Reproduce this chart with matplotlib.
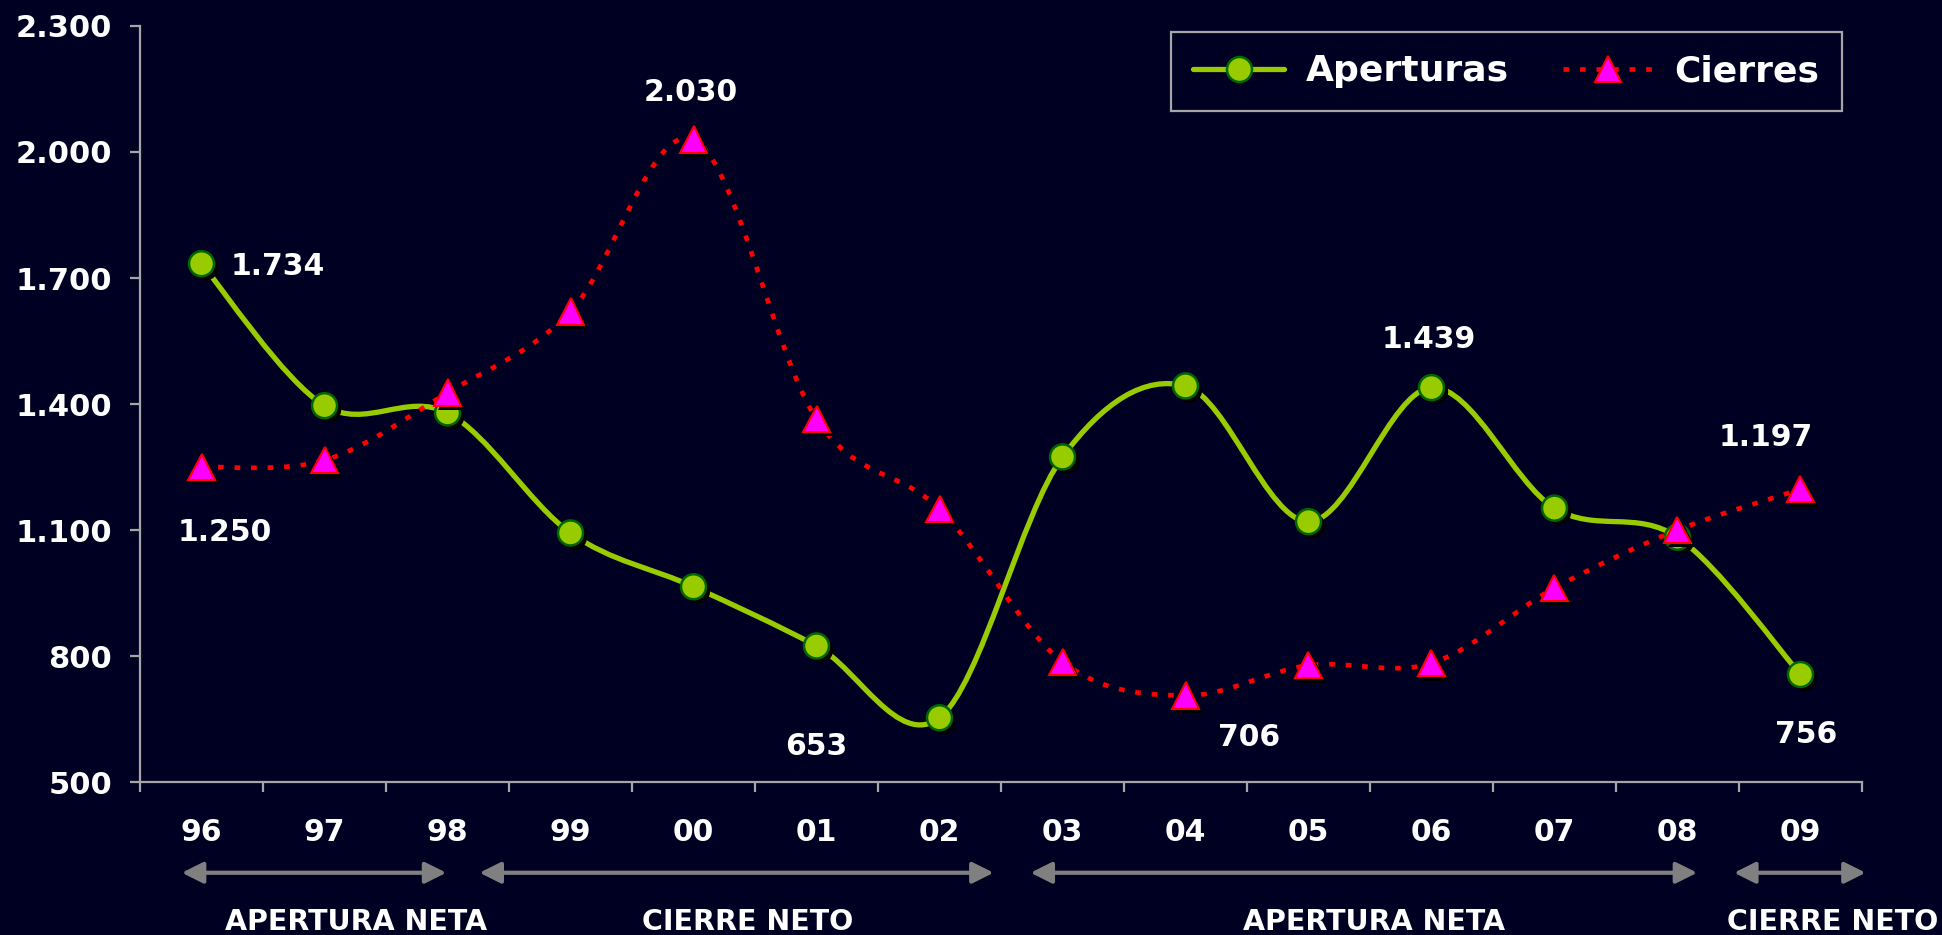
import numpy as np
import matplotlib.pyplot as plt
import matplotlib.patheffects as pe
from matplotlib.path import Path
from matplotlib.patches import PathPatch
from matplotlib.lines import Line2D
from matplotlib.ticker import FuncFormatter, FixedLocator
import matplotlib.transforms as mtransforms

plt.rcParams['font.family'] = ['DejaVu Sans']
plt.rcParams['font.weight'] = 'bold'

years = ['96', '97', '98', '99', '00', '01', '02', '03', '04', '05', '06', '07', '08', '09']
aperturas = [1734, 1396, 1379, 1093, 965, 824, 653, 1274, 1443, 1120, 1439, 1152, 1083, 756]
cierres = [1250, 1266, 1427, 1620, 2030, 1364, 1150, 786, 706, 778, 783, 962, 1100, 1197]

# etiquetas de datos: (serie, indice, desplazamiento en puntos)
etiquetas = [
    ('a', 0, (55, -2)),
    ('c', 0, (17, -47)),
    ('c', 4, (-2, 34)),
    ('a', 6, (-89, -21)),
    ('c', 8, (46, -30)),
    ('a', 10, (-2, 35)),
    ('c', 13, (-25, 37)),
    ('a', 13, (4, -43)),
]

# periodos debajo del eje: (inicio, fin, texto, centro)
periodos = [
    (-0.16, 1.99, 'APERTURA NETA', 1.26),
    (2.26, 6.44, 'CIERRE NETO', 4.44),
    (6.74, 12.16, 'APERTURA NETA', 9.53),
    (12.46, 13.53, 'CIERRE NETO', 13.26),
]

bg = '#000022'
verde = '#99CC00'
gris = '#A6A6A6'


def fmt(v):
    return f"{v:,.0f}".replace(',', '.')


def curva_suave(x, y):
    # suavizado tipo Excel con curvas de Bezier
    pts = np.column_stack([x, y]).astype(float)
    n = len(pts)
    verts = [pts[0]]
    codes = [Path.MOVETO]
    for i in range(n - 1):
        p0 = pts[max(i - 1, 0)]
        p1 = pts[i]
        p2 = pts[i + 1]
        p3 = pts[min(i + 2, n - 1)]
        c1 = p1 + (p2 - p0) / 6.0
        c2 = p2 - (p3 - p1) / 6.0
        verts += [c1, c2, p2]
        codes += [Path.CURVE4] * 3
    return Path(verts, codes)


fig = plt.figure(figsize=(19.42, 9.35), dpi=100, facecolor=bg)
ax = fig.add_axes([0.0721, 0.1636, 0.8867, 0.8086])
ax.set_facecolor(bg)

x = np.arange(len(years))
sombra = [pe.SimplePatchShadow(offset=(3, -3), shadow_rgbFace='black', alpha=1.0), pe.Normal()]

ax.add_patch(PathPatch(curva_suave(x, aperturas), facecolor='none', edgecolor=verde,
                       lw=3.8, capstyle='round', zorder=2))
ax.plot(x, aperturas, linestyle='none', marker='o', markersize=18, markerfacecolor=verde,
        markeredgecolor='#006600', markeredgewidth=1.8, zorder=3, path_effects=sombra)

ax.add_patch(PathPatch(curva_suave(x, cierres), facecolor='none', edgecolor='#FF0000',
                       lw=3.4, linestyle=(0, (1.2, 2.3)), capstyle='butt', zorder=4))
ax.plot(x, cierres, linestyle='none', marker='^', markersize=19, markerfacecolor='#FF00FF',
        markeredgecolor='#FF0000', markeredgewidth=1.5, zorder=5, path_effects=sombra)

for serie, i, off in etiquetas:
    v = aperturas[i] if serie == 'a' else cierres[i]
    ax.annotate(fmt(v), xy=(i, v), xytext=off, textcoords='offset points',
                ha='center', va='center', color='white', fontsize=21.5, fontweight='bold',
                zorder=6)

ax.set_xlim(-0.5, len(years) - 0.5)
ax.set_ylim(500, 2300)
ax.set_yticks(np.arange(500, 2301, 300))
ax.yaxis.set_major_formatter(FuncFormatter(lambda v, p: fmt(v)))
ax.set_xticks(x)
ax.set_xticklabels(years)
ax.xaxis.set_minor_locator(FixedLocator(np.arange(-0.5, len(years), 1.0)))

for s in ['top', 'right']:
    ax.spines[s].set_visible(False)
for s in ['left', 'bottom']:
    ax.spines[s].set_color(gris)
    ax.spines[s].set_linewidth(1.6)

ax.tick_params(axis='y', colors=gris, length=7, width=1.6, pad=13, labelcolor='white', labelsize=22)
ax.tick_params(axis='x', which='major', length=0, pad=26, labelcolor='white', labelsize=21.5)
ax.tick_params(axis='x', which='minor', colors=gris, length=7, width=1.6)
for lab in ax.get_xticklabels() + ax.get_yticklabels():
    lab.set_fontweight('bold')

trans = mtransforms.blended_transform_factory(ax.transData, ax.transAxes)
for x0, x1, texto, xc in periodos:
    ax.annotate('', xy=(x1, -0.12), xytext=(x0, -0.12), xycoords=trans, textcoords=trans,
                annotation_clip=False,
                arrowprops=dict(arrowstyle='<|-|>', color='#808080', lw=3,
                                mutation_scale=32, shrinkA=0, shrinkB=0))
    ax.text(xc, -0.185, texto, transform=trans, ha='center', va='center',
            color='white', fontsize=20.5, fontweight='bold', clip_on=False)

h1 = Line2D([], [], color=verde, lw=3.8, marker='o', markersize=18, markerfacecolor=verde,
            markeredgecolor='#006600', markeredgewidth=1.8, solid_capstyle='round')
h2 = Line2D([], [], color='#FF0000', lw=3.4, linestyle=(0, (1.2, 2.3)), marker='^', markersize=19,
            markerfacecolor='#FF00FF', markeredgecolor='#FF0000', markeredgewidth=1.5)
leg = ax.legend([h1, h2], ['Aperturas', 'Cierres'], ncol=2, loc='upper right',
                bbox_to_anchor=(1842 / 1942, 1 - 32 / 935), bbox_transform=fig.transFigure,
                borderaxespad=0, frameon=True, fancybox=False, facecolor=bg, edgecolor=gris,
                prop={'size': 26, 'weight': 'bold'}, handlelength=2.5, handletextpad=0.6,
                columnspacing=1.5, borderpad=0.62, framealpha=1)
leg.get_frame().set_linewidth(1.6)
for t in leg.get_texts():
    t.set_color('white')

fig.savefig('out.png', dpi=100, facecolor=bg)
